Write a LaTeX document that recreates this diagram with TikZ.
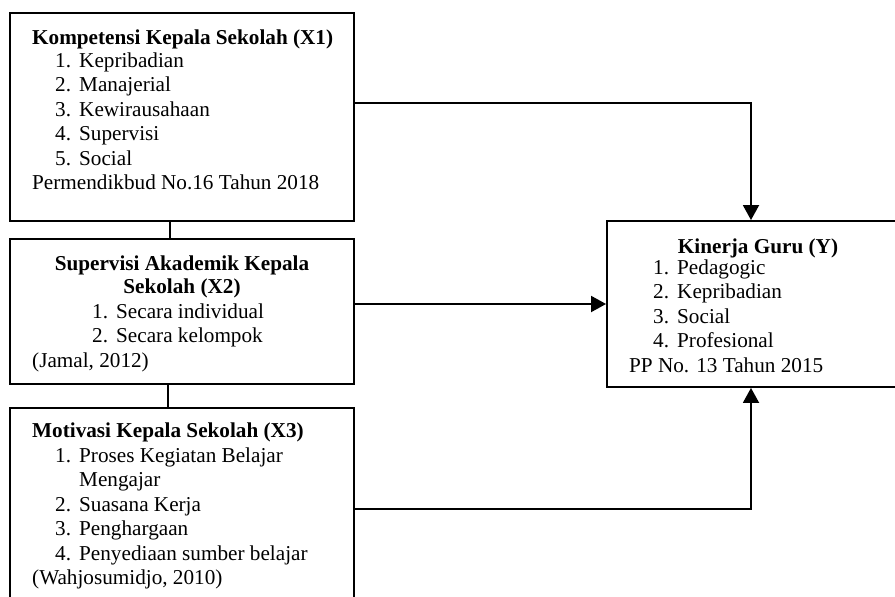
\documentclass[tikz,border=0pt]{standalone}
\usepackage{fontspec}
\setmainfont{Liberation Serif}
\usetikzlibrary{arrows.meta}
\newcommand{\numitem}[2]{\makebox[24pt][l]{#1}#2}
\begin{document}
\begin{tikzpicture}[x=1pt,y=-1pt,
  box/.style={draw, line width=1.9pt, inner sep=0pt, fill=none},
  txt/.style={inner sep=0pt, anchor=base west, font=\fontsize{21.2}{24}\selectfont},
  ctxt/.style={txt, anchor=base},
  conn/.style={line width=1.9pt},
  arr/.style={conn, -{Triangle[length=15pt,width=16pt]}}]
\useasboundingbox (0,0) rectangle (895,597);
\clip (0,0) rectangle (895,597);
% boxes
\node[box, minimum width=344pt, minimum height=208pt] (x1) at (182,117) {};
\node[box, minimum width=344pt, minimum height=145pt] (x2) at (182,311.75) {};
\node[box, minimum width=344pt, minimum height=202pt] (x3) at (182,509) {};
\node[box, minimum width=303pt, minimum height=166pt] (y) at (758.5,304) {};
% X1 text
\node[txt] (x1t) at (32,44) {\textbf{Kompetensi Kepala Sekolah (X1)}};
\node[txt] (x1a) at (55,67) {\numitem{1.}{Kepribadian}};
\node[txt] (x1b) at (55,91.5) {\numitem{2.}{Manajerial}};
\node[txt] (x1c) at (55,116) {\numitem{3.}{Kewirausahaan}};
\node[txt] (x1d) at (55,140.5) {\numitem{4.}{Supervisi}};
\node[txt] (x1e) at (55,165) {\numitem{5.}{Social}};
\node[txt] (x1s) at (32,189.5) {Permendikbud No.16 Tahun 2018};
% X2 text
\node[ctxt] (x2t1) at (182,270) {\textbf{Supervisi Akademik Kepala}};
\node[ctxt] (x2t2) at (182,293.5) {\textbf{Sekolah (X2)}};
\node[txt] (x2a) at (92,318) {\numitem{1.}{Secara individual}};
\node[txt] (x2b) at (92,342) {\numitem{2.}{Secara kelompok}};
\node[txt] (x2s) at (32,367) {(Jamal, 2012)};
% X3 text
\node[txt] (x3t) at (32,437) {\textbf{Motivasi Kepala Sekolah (X3)}};
\node[txt] (x3a) at (55,462) {\numitem{1.}{Proses Kegiatan Belajar}};
\node[txt] (x3a2) at (79,486.5) {Mengajar};
\node[txt] (x3b) at (55,511) {\numitem{2.}{Suasana Kerja}};
\node[txt] (x3c) at (55,535.5) {\numitem{3.}{Penghargaan}};
\node[txt] (x3d) at (55,560) {\numitem{4.}{Penyediaan sumber belajar}};
\node[txt] (x3s) at (32,584.5) {(Wahjosumidjo, 2010)};
% Y text
\node[ctxt] (yt) at (758,253) {\textbf{Kinerja Guru (Y)}};
\node[txt] (ya) at (653,274) {\numitem{1.}{Pedagogic}};
\node[txt] (yb) at (653,298.5) {\numitem{2.}{Kepribadian}};
\node[txt] (yc) at (653,323) {\numitem{3.}{Social}};
\node[txt] (yd) at (653,347.5) {\numitem{4.}{Profesional}};
\node[txt] (ys) at (629,372) {PP No. 13 Tahun 2015};
% connectors
\draw[conn] ([xshift=-12pt]x1.south) -- ([xshift=-12pt]x2.north);
\draw[conn] ([xshift=-14pt]x2.south) -- ([xshift=-14pt]x3.north);
\draw[arr] ([yshift=14pt]x1.east) -| ([xshift=-7.5pt]y.north);
\draw[arr] (x2.east |- y.west) -- (y.west);
\draw[arr] (x3.east) -| ([xshift=-7.5pt]y.south);
\end{tikzpicture}
\end{document}
